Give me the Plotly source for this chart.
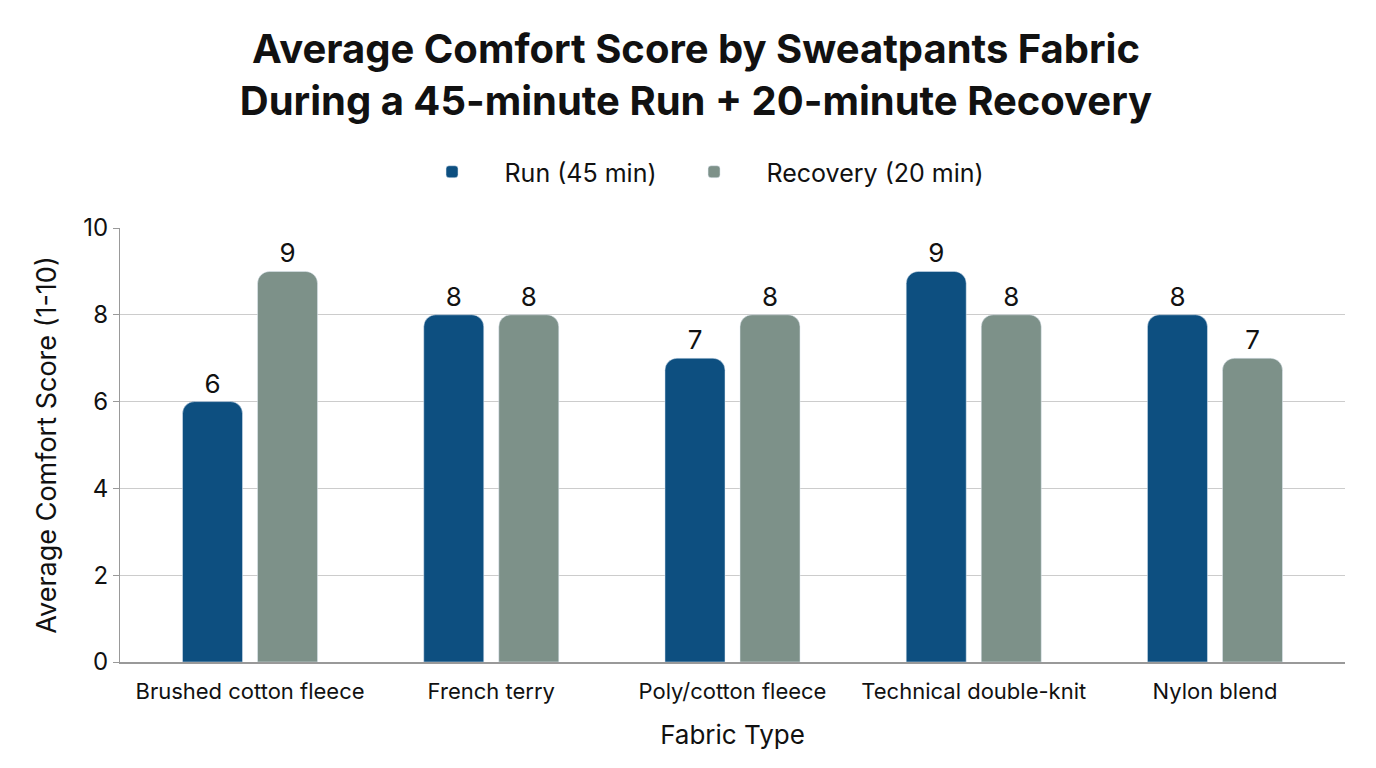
import plotly.graph_objects as go

# data
fabrics = ["Brushed cotton fleece", "French terry", "Poly/cotton fleece",
           "Technical double-knit", "Nylon blend"]
run_scores = [6, 8, 7, 9, 8]
recovery_scores = [9, 8, 8, 8, 7]

run_color = "#0D4F80"
recovery_color = "#7D9189"
font_family = "Inter, Roboto, sans-serif"

fig = go.Figure()
fig.add_trace(go.Bar(x=fabrics, y=run_scores, name="Run (45 min)",
                     marker_color=run_color, text=run_scores,
                     textposition="outside", cliponaxis=False))
fig.add_trace(go.Bar(x=fabrics, y=recovery_scores, name="Recovery (20 min)",
                     marker_color=recovery_color, text=recovery_scores,
                     textposition="outside", cliponaxis=False))

fig.update_traces(textfont=dict(size=26, color="#111111"),
                  outsidetextfont=dict(size=26, color="#111111"))

# page body has an 8px margin, so margins are shifted by that
fig.update_layout(
    width=1376, height=768,
    paper_bgcolor="white", plot_bgcolor="white",
    font=dict(family=font_family, color="#111111"),
    title=dict(text="<b>Average Comfort Score by Sweatpants Fabric<br>"
                    "During a 45-minute Run + 20-minute Recovery</b>",
               x=0.5, xanchor="center", yref="container", y=0.928,
               yanchor="middle", font=dict(size=40, color="#111111")),
    legend=dict(orientation="h", x=0.469, xanchor="center", y=1.129,
                yanchor="middle", font=dict(size=25), itemwidth=95,
                traceorder="normal"),
    barmode="group", bargap=0.378, bargroupgap=0.2, barcornerradius=12,
    margin=dict(l=112, r=39, t=220, b=114),
    xaxis=dict(title=dict(text="Fabric Type", font=dict(size=26), standoff=22),
               tickfont=dict(size=22), ticklabelstandoff=9,
               range=[-0.539, 4.539], showline=True, linecolor="#999999",
               linewidth=2, ticks="", showgrid=False),
    yaxis=dict(title=dict(text="Average Comfort Score (1-10)",
                          font=dict(size=27), standoff=18),
               range=[0, 10], dtick=2, tickfont=dict(size=24),
               showgrid=True, gridcolor="#CCCCCC", gridwidth=1,
               showline=True, linecolor="#999999", linewidth=1,
               ticks="outside", ticklen=6, tickcolor="#999999",
               zeroline=False),
)

fig.write_html("out.html")
